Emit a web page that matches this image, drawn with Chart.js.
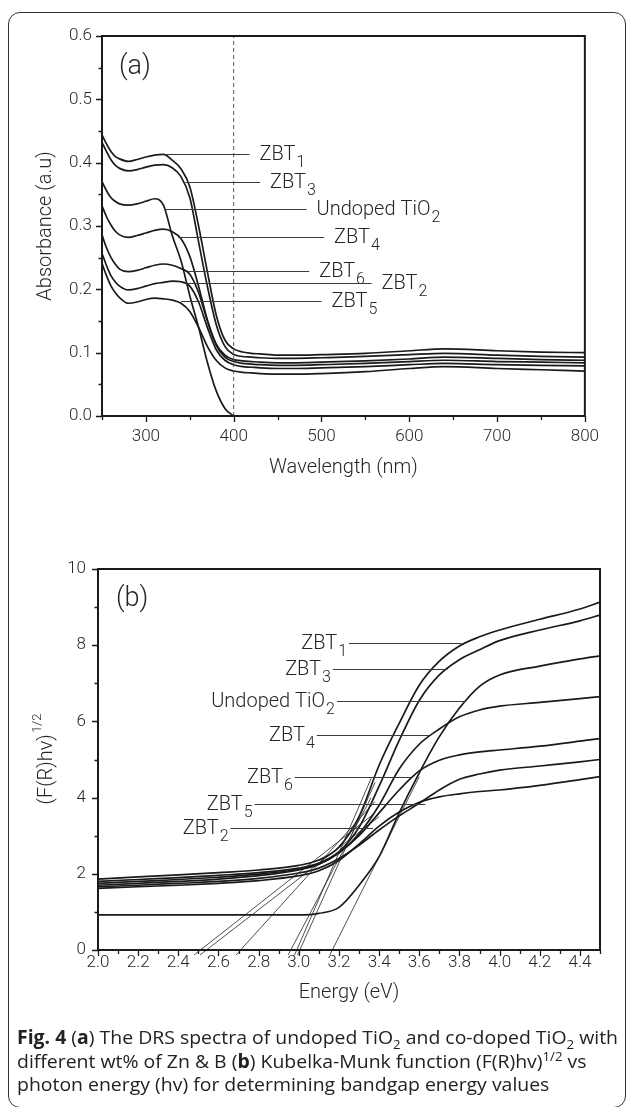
<!DOCTYPE html>
<html>
<head>
<meta charset="utf-8">
<script src="https://cdn.jsdelivr.net/npm/chart.js@4.4.1/dist/chart.umd.min.js"></script>
<style>
  html, body { margin: 0; padding: 0; background: #fff; }
  body { width: 629px; height: 1107px; position: relative; overflow: hidden; }
  .frame {
    position: absolute; left: 8px; top: 12px; width: 616px; height: 1094px;
    border: 1.5px solid #333; border-radius: 12px;
  }
  #chartA { position: absolute; left: 10px; top: 14px; }
  #chartB { position: absolute; left: 10px; top: 545px; }
  .caption {
    position: absolute; left: 17px; top: 1026px;
    font-family: "Open Sans", "Noto Sans", sans-serif; font-size: 19px;
    line-height: 23.5px; color: #222; white-space: nowrap;
    transform-origin: 0 0;
  }
  .caption div { display: block; }
  .caption span.line { display: inline-block; }
  .caption sub, .caption sup { font-size: 68%; line-height: 0; }
</style>
</head>
<body>
<div class="frame"></div>
<canvas id="chartA" width="600" height="480"></canvas>
<canvas id="chartB" width="600" height="480"></canvas>
<div class="caption" id="caption">
  <div><span class="line" id="capLine1"><b>Fig. 4</b> (<b>a</b>) The DRS spectra of undoped TiO<sub>2</sub> and co-doped TiO<sub>2</sub> with</span></div>
  <div><span class="line">different wt% of Zn &amp; B (<b>b</b>) Kubelka-Munk function (F(R)hv)<sup>1/2</sup> vs</span></div>
  <div><span class="line">photon energy (hv) for determining bandgap energy values</span></div>
</div>
<script>
// ---- (a) DRS spectra ----
const wavelengths = [250, 255, 260, 265, 270, 280, 290, 300, 310, 320, 330, 340, 350, 360, 370, 380, 390, 400, 410, 420, 430, 450, 470, 500, 550, 600, 640, 700, 750, 800];
const absZBT1 = [0.444, 0.430, 0.418, 0.410, 0.406, 0.402, 0.405, 0.409, 0.412, 0.413, 0.404, 0.390, 0.362, 0.300, 0.228, 0.160, 0.120, 0.106, 0.101, 0.099, 0.098, 0.096, 0.096, 0.097, 0.099, 0.103, 0.106, 0.103, 0.101, 0.100];
const absZBT3 = [0.432, 0.418, 0.405, 0.396, 0.391, 0.387, 0.389, 0.393, 0.396, 0.397, 0.392, 0.378, 0.345, 0.275, 0.205, 0.145, 0.110, 0.097, 0.094, 0.093, 0.092, 0.091, 0.091, 0.092, 0.094, 0.097, 0.099, 0.096, 0.094, 0.093];
const absUndoped = [0.370, 0.356, 0.345, 0.339, 0.335, 0.333, 0.335, 0.339, 0.343, 0.333, 0.285, 0.245, 0.190, 0.140, 0.085, 0.040, 0.012, 0.000, null, null, null, null, null, null, null, null, null, null, null, null];
const absZBT4 = [0.332, 0.315, 0.302, 0.292, 0.286, 0.282, 0.285, 0.289, 0.293, 0.295, 0.291, 0.280, 0.252, 0.205, 0.152, 0.114, 0.096, 0.089, 0.087, 0.086, 0.085, 0.084, 0.084, 0.085, 0.087, 0.090, 0.093, 0.091, 0.089, 0.088];
const absZBT6 = [0.286, 0.266, 0.251, 0.240, 0.232, 0.228, 0.230, 0.234, 0.238, 0.240, 0.238, 0.233, 0.224, 0.195, 0.150, 0.112, 0.093, 0.086, 0.083, 0.082, 0.081, 0.080, 0.080, 0.081, 0.083, 0.086, 0.088, 0.086, 0.085, 0.084];
const absZBT2 = [0.257, 0.238, 0.222, 0.212, 0.205, 0.199, 0.201, 0.205, 0.209, 0.211, 0.213, 0.212, 0.205, 0.180, 0.140, 0.105, 0.088, 0.081, 0.078, 0.077, 0.076, 0.075, 0.075, 0.076, 0.078, 0.081, 0.083, 0.081, 0.080, 0.079];
const absZBT5 = [0.241, 0.222, 0.206, 0.195, 0.187, 0.178, 0.180, 0.184, 0.186, 0.185, 0.183, 0.178, 0.165, 0.140, 0.110, 0.088, 0.076, 0.071, 0.069, 0.068, 0.067, 0.066, 0.066, 0.067, 0.070, 0.075, 0.078, 0.075, 0.073, 0.071];
const edgeWavelength = 400;

const wlTicks = [300, 400, 500, 600, 700, 800];
const wlMinorTicks = [250, 350, 450, 550, 650, 750];
const absTicks = [0, 0.1, 0.2, 0.3, 0.4, 0.5, 0.6];
const absMinorTicks = [0.05, 0.15, 0.25, 0.35, 0.45, 0.55];

// labels of panel (a): leader runs from the curve point to the right
const labelNamesA = ['ZBT', 'ZBT', 'Undoped TiO', 'ZBT', 'ZBT', 'ZBT', 'ZBT'];
const labelSubsA = ['1', '3', '2', '4', '6', '2', '5'];
const leaderFromA = [322, 345, 322, 337, 348, 345, 340];
const leaderLevelA = [0.413, 0.369, 0.327, 0.283, 0.229, 0.210, 0.181];
const leaderToA = [418, 430, 483, 503, 486, 557, 500];

// ---- (b) Kubelka-Munk plot ----
const energies = [2.0, 2.2, 2.4, 2.6, 2.8, 3.0, 3.1, 3.2, 3.3, 3.4, 3.5, 3.6, 3.7, 3.8, 3.9, 4.0, 4.2, 4.4, 4.5];
const kmZBT1 = [1.86, 1.92, 1.97, 2.03, 2.10, 2.22, 2.36, 2.70, 3.50, 4.85, 5.95, 6.95, 7.58, 7.98, 8.22, 8.40, 8.68, 8.95, 9.13];
const kmZBT3 = [1.80, 1.85, 1.90, 1.96, 2.03, 2.15, 2.28, 2.58, 3.22, 4.30, 5.50, 6.55, 7.22, 7.62, 7.88, 8.12, 8.40, 8.64, 8.79];
const kmUndoped = [0.92, 0.92, 0.92, 0.92, 0.92, 0.92, 0.96, 1.12, 1.70, 2.45, 3.60, 4.65, 5.60, 6.35, 6.92, 7.22, 7.45, 7.64, 7.72];
const kmZBT4 = [1.75, 1.80, 1.85, 1.91, 1.99, 2.12, 2.25, 2.55, 3.05, 3.80, 4.75, 5.40, 5.80, 6.12, 6.30, 6.40, 6.50, 6.60, 6.65];
const kmZBT6 = [1.70, 1.75, 1.80, 1.86, 1.95, 2.10, 2.25, 2.55, 3.00, 3.60, 4.20, 4.70, 4.98, 5.12, 5.20, 5.25, 5.35, 5.48, 5.55];
const kmZBT5 = [1.66, 1.70, 1.75, 1.80, 1.88, 2.02, 2.15, 2.40, 2.75, 3.15, 3.52, 3.85, 4.20, 4.48, 4.62, 4.72, 4.83, 4.94, 5.00];
const kmZBT2 = [1.62, 1.66, 1.70, 1.75, 1.82, 1.95, 2.08, 2.35, 2.78, 3.25, 3.62, 3.88, 4.02, 4.10, 4.16, 4.20, 4.32, 4.47, 4.55];

// band-gap extrapolations: energy axis intercept and the upper end of each line
const tangentIntercepts = [2.99, 3.005, 3.167, 2.96, 2.71, 2.54, 2.51];
const tangentEndEnergy = [3.36, 3.38, 3.60, 3.36, 3.38, 3.40, 3.38];
const tangentEndValue = [4.50, 4.40, 4.55, 4.00, 3.90, 3.50, 3.60];

const energyTicks = [2.0, 2.2, 2.4, 2.6, 2.8, 3.0, 3.2, 3.4, 3.6, 3.8, 4.0, 4.2, 4.4];
const energyMinorTicks = [2.1, 2.3, 2.5, 2.7, 2.9, 3.1, 3.3, 3.5, 3.7, 3.9, 4.1, 4.3, 4.5];
const kmTicks = [0, 2, 4, 6, 8, 10];
const kmMinorTicks = [1, 3, 5, 7, 9];

// labels of panel (b): leader runs from the curve point to the left
const labelNamesB = ['ZBT', 'ZBT', 'Undoped TiO', 'ZBT', 'ZBT', 'ZBT', 'ZBT'];
const labelSubsB = ['1', '3', '2', '4', '6', '5', '2'];
const leaderFromB = [3.81, 3.74, 3.83, 3.65, 3.56, 3.63, 3.37];
const leaderLevelB = [8.05, 7.38, 6.54, 5.64, 4.55, 3.83, 3.21];
const leaderToB = [3.25, 3.17, 3.19, 3.09, 2.98, 2.78, 2.66];

const FAMILY = 'Roboto, "Liberation Sans", Arial, sans-serif';
const WEIGHT = 300;
const INK = '#1a1a1a';
const TEXT = '#262626';

function points(xs, ys) {
  return xs.map((x, i) => ({ x: x, y: ys[i] }));
}

function curve(xs, ys) {
  return {
    data: points(xs, ys),
    borderColor: INK,
    borderWidth: 1.7,
    pointRadius: 0,
    cubicInterpolationMode: 'monotone',
    spanGaps: false
  };
}

function canvasFont(size) {
  return WEIGHT + ' ' + size + 'px ' + FAMILY;
}

// tick marks on the outside of the box plus the box itself
const axisFrame = {
  id: 'axisFrame',
  afterDatasetsDraw(chart, args, opts) {
    const { ctx, chartArea: a } = chart;
    const x = chart.scales.x, y = chart.scales.y;
    ctx.save();
    ctx.strokeStyle = INK;
    ctx.lineWidth = 1.3;
    ctx.beginPath();
    const xt = (vals, len) => vals.forEach(v => {
      const p = Math.round(x.getPixelForValue(v)) + 0.5;
      ctx.moveTo(p, a.bottom); ctx.lineTo(p, a.bottom + len);
    });
    const yt = (vals, len) => vals.forEach(v => {
      const p = Math.round(y.getPixelForValue(v)) + 0.5;
      ctx.moveTo(a.left, p); ctx.lineTo(a.left - len, p);
    });
    xt(opts.xMajor, 6); xt(opts.xMinor, 4);
    yt(opts.yMajor, 6); yt(opts.yMinor, 3.5);
    ctx.stroke();
    ctx.lineWidth = 2;
    ctx.strokeRect(a.left, a.top, a.right - a.left, a.bottom - a.top);
    ctx.restore();
  }
};

function drawTagged(ctx, x, y, base, sub, alignRight) {
  ctx.font = canvasFont(20);
  const wb = ctx.measureText(base).width;
  ctx.font = canvasFont(16);
  const ws = ctx.measureText(sub).width;
  const left = alignRight ? x - wb - ws - 1 : x;
  ctx.textAlign = 'left';
  ctx.textBaseline = 'middle';
  ctx.font = canvasFont(20);
  ctx.fillText(base, left, y);
  ctx.font = canvasFont(16);
  ctx.fillText(sub, left + wb + 1, y + 8);
}

// leader lines, curve names and the panel tag
const curveLabels = {
  id: 'curveLabels',
  afterDatasetsDraw(chart, args, opts) {
    const { ctx, chartArea: a } = chart;
    const x = chart.scales.x, y = chart.scales.y;
    ctx.save();
    ctx.strokeStyle = '#3a3a3a';
    ctx.lineWidth = 1.1;
    ctx.fillStyle = TEXT;
    opts.names.forEach((name, i) => {
      const x0 = x.getPixelForValue(opts.from[i]);
      const x1 = x.getPixelForValue(opts.to[i]);
      const py = Math.round(y.getPixelForValue(opts.level[i])) + 0.5;
      ctx.beginPath();
      ctx.moveTo(x0, py); ctx.lineTo(x1, py);
      ctx.stroke();
      if (opts.textRight) drawTagged(ctx, x1 - 2, py, name, opts.subs[i], true);
      else drawTagged(ctx, x1 + 10, py, name, opts.subs[i], false);
    });
    ctx.font = canvasFont(27);
    ctx.textAlign = 'left';
    ctx.textBaseline = 'middle';
    ctx.fillText(opts.tag, a.left + opts.tagDx, a.top + opts.tagDy);
    ctx.restore();
  }
};

// rotated y title with a superscript
const powerTitle = {
  id: 'powerTitle',
  afterDraw(chart, args, opts) {
    if (!opts.text) return;
    const { ctx, chartArea: a } = chart;
    ctx.save();
    ctx.translate(opts.x, (a.top + a.bottom) / 2);
    ctx.rotate(-Math.PI / 2);
    ctx.fillStyle = TEXT;
    ctx.textBaseline = 'middle';
    ctx.textAlign = 'left';
    ctx.font = canvasFont(20);
    const wm = ctx.measureText(opts.text).width;
    ctx.font = canvasFont(13);
    const ws = ctx.measureText(opts.sup).width;
    const start = -(wm + ws) / 2;
    ctx.font = canvasFont(20);
    ctx.fillText(opts.text, start, 0);
    ctx.font = canvasFont(13);
    ctx.fillText(opts.sup, start + wm + 1, -9);
    ctx.restore();
  }
};

const tickFont = { family: FAMILY, size: 17, weight: WEIGHT };
const titleFont = { family: FAMILY, size: 20, weight: WEIGHT };

// panel (a)
const dashed = {
  data: [{ x: edgeWavelength, y: 0 }, { x: edgeWavelength, y: 0.6 }],
  borderColor: '#555',
  borderWidth: 1,
  borderDash: [4, 3],
  pointRadius: 0
};

new Chart(document.getElementById('chartA'), {
  type: 'line',
  data: {
    datasets: [dashed, curve(wavelengths, absZBT1), curve(wavelengths, absZBT3),
      curve(wavelengths, absUndoped), curve(wavelengths, absZBT4), curve(wavelengths, absZBT6),
      curve(wavelengths, absZBT2), curve(wavelengths, absZBT5)]
  },
  plugins: [axisFrame, curveLabels],
  options: {
    responsive: false,
    animation: false,
    events: [],
    layout: { padding: { top: 22, right: 16, left: 0, bottom: 0 } },
    plugins: {
      legend: { display: false },
      tooltip: { enabled: false },
      axisFrame: { xMajor: wlTicks, xMinor: wlMinorTicks, yMajor: absTicks, yMinor: absMinorTicks },
      curveLabels: {
        names: labelNamesA, subs: labelSubsA, from: leaderFromA, level: leaderLevelA, to: leaderToA,
        textRight: false, tag: '(a)', tagDx: 17, tagDy: 31
      }
    },
    scales: {
      x: {
        type: 'linear', min: 250, max: 800,
        grid: { display: false, drawTicks: false },
        border: { display: false },
        afterBuildTicks: s => { s.ticks = wlTicks.map(v => ({ value: v })); },
        afterFit: s => { s.height = 78; },
        ticks: { font: tickFont, color: TEXT, padding: 11, maxRotation: 0, callback: v => String(v) },
        title: { display: true, text: 'Wavelength (nm)', font: titleFont, color: TEXT, padding: { top: 0, bottom: 14 } }
      },
      y: {
        type: 'linear', min: 0, max: 0.6,
        grid: { display: false, drawTicks: false },
        border: { display: false },
        afterBuildTicks: s => { s.ticks = absTicks.map(v => ({ value: v })); },
        afterFit: s => { s.width = 92; },
        ticks: { font: tickFont, color: TEXT, padding: 10, callback: v => v.toFixed(1) },
        title: { display: true, text: 'Absorbance (a.u)', font: titleFont, color: TEXT, padding: { top: 24, bottom: 0 } }
      }
    }
  }
});

// panel (b)
const tangentSets = tangentIntercepts.map((e0, i) => {
  const slope = tangentEndValue[i] / (tangentEndEnergy[i] - e0);
  return {
    data: [{ x: e0 - 0.13 / slope, y: -0.13 }, { x: tangentEndEnergy[i], y: tangentEndValue[i] }],
    borderColor: '#222',
    borderWidth: 0.8,
    pointRadius: 0,
    clip: false
  };
});

new Chart(document.getElementById('chartB'), {
  type: 'line',
  data: {
    datasets: tangentSets.concat([curve(energies, kmZBT1), curve(energies, kmZBT3),
      curve(energies, kmUndoped), curve(energies, kmZBT4), curve(energies, kmZBT6),
      curve(energies, kmZBT5), curve(energies, kmZBT2)])
  },
  plugins: [axisFrame, curveLabels, powerTitle],
  options: {
    responsive: false,
    animation: false,
    events: [],
    layout: { padding: { top: 24, right: 10, left: 0, bottom: 0 } },
    plugins: {
      legend: { display: false },
      tooltip: { enabled: false },
      axisFrame: { xMajor: energyTicks, xMinor: energyMinorTicks, yMajor: kmTicks, yMinor: kmMinorTicks },
      curveLabels: {
        names: labelNamesB, subs: labelSubsB, from: leaderFromB, level: leaderLevelB, to: leaderToB,
        textRight: true, tag: '(b)', tagDx: 18, tagDy: 30
      },
      powerTitle: { text: '(F(R)hv)', sup: '1/2', x: 37 }
    },
    scales: {
      x: {
        type: 'linear', min: 2.0, max: 4.5,
        grid: { display: false, drawTicks: false },
        border: { display: false },
        afterBuildTicks: s => { s.ticks = energyTicks.map(v => ({ value: v })); },
        afterFit: s => { s.height = 75; },
        ticks: { font: tickFont, color: TEXT, padding: 3, maxRotation: 0, callback: v => v.toFixed(1) },
        title: { display: true, text: 'Energy (eV)', font: titleFont, color: TEXT, padding: { top: 0, bottom: 20 } }
      },
      y: {
        type: 'linear', min: 0, max: 10,
        grid: { display: false, drawTicks: false },
        border: { display: false },
        afterBuildTicks: s => { s.ticks = kmTicks.map(v => ({ value: v })); },
        afterFit: s => { s.width = 88; },
        ticks: { font: tickFont, color: TEXT, padding: 12, callback: v => String(v) }
      }
    }
  }
});

// squeeze the caption into the frame width
document.fonts.ready.then(() => {
  const cap = document.getElementById('caption');
  const w = document.getElementById('capLine1').getBoundingClientRect().width;
  cap.style.transform = 'scaleX(' + (601 / w).toFixed(4) + ')';
});
</script>
</body>
</html>
